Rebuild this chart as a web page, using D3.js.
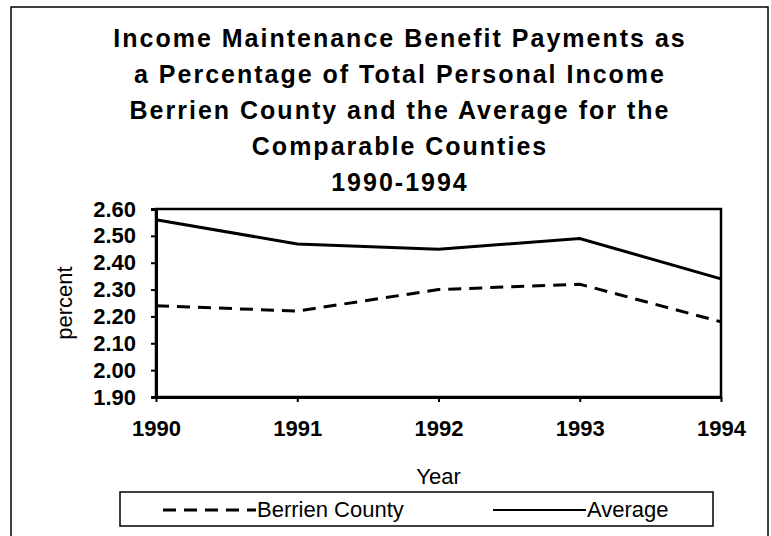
<!DOCTYPE html>
<meta charset="utf-8">

<!-- Load d3.js -->
<script src="https://d3js.org/d3.v7.min.js"></script>

<style>
  body { margin: 0; background: #fff; }
  text { font-family: "Liberation Sans", Arial, sans-serif; fill: #000; }
  .axis path, .axis line { stroke: #000; }
  .axis text { font-size: 22px; font-weight: bold; }
</style>

<div id="my_dataviz"></div>

<script>
    // data
    var years = ["1990", "1991", "1992", "1993", "1994"];
    var berrien = [2.24, 2.22, 2.30, 2.32, 2.18];
    var average = [2.56, 2.47, 2.45, 2.49, 2.34];
    var yTicks = [1.90, 2.00, 2.10, 2.20, 2.30, 2.40, 2.50, 2.60];
    var titleLines = [
      "Income Maintenance Benefit Payments as",
      "a Percentage of Total Personal Income",
      "Berrien County and the Average for the",
      "Comparable Counties",
      "1990-1994"
    ];

    var width = 771, height = 536;
    var plot = {left: 156, right: 721, top: 209, bottom: 397};

    var svg = d3.select("#my_dataviz").append("svg")
        .attr("width", width)
        .attr("height", height);

    // outer frame
    svg.append("rect")
        .attr("x", 11).attr("y", 7)
        .attr("width", 757).attr("height", 540)
        .attr("fill", "none")
        .attr("stroke", "#000")
        .attr("stroke-width", 1.5);

    // title
    svg.append("g").selectAll("text")
        .data(titleLines)
        .enter().append("text")
          .attr("x", 400)
          .attr("y", function(d, i) { return 47 + i * 36; })
          .attr("text-anchor", "middle")
          .style("font-size", "25px")
          .style("font-weight", "bold")
          .style("letter-spacing", "2px")
          .text(function(d) { return d; });

    // scales
    var x = d3.scalePoint()
        .domain(years)
        .range([plot.left, plot.right]);

    var y = d3.scaleLinear()
        .domain([1.9, 2.6])
        .range([plot.bottom, plot.top]);

    // plot area box
    svg.append("rect")
        .attr("x", plot.left).attr("y", plot.top)
        .attr("width", plot.right - plot.left)
        .attr("height", plot.bottom - plot.top)
        .attr("fill", "none")
        .attr("stroke", "#000")
        .attr("stroke-width", 2.5);

    // y axis
    var yAxis = svg.append("g")
        .attr("class", "axis")
        .attr("transform", "translate(" + plot.left + ",0)")
        .call(d3.axisLeft(y).tickValues(yTicks).tickSize(5).tickPadding(15)
          .tickFormat(d3.format(".2f")));
    yAxis.select(".domain").attr("stroke-width", 3);
    yAxis.selectAll("line").attr("stroke-width", 2);

    // x axis
    var xAxis = svg.append("g")
        .attr("class", "axis")
        .attr("transform", "translate(0," + plot.bottom + ")")
        .call(d3.axisBottom(x).tickSize(5).tickPadding(18).tickSizeOuter(0));
    xAxis.select(".domain").attr("stroke-width", 3);
    xAxis.selectAll("line").attr("stroke-width", 2);

    // axis titles
    svg.append("text")
        .attr("transform", "translate(72," + ((plot.top + plot.bottom) / 2) + ") rotate(-90)")
        .attr("text-anchor", "middle")
        .style("font-size", "22px")
        .text("percent");

    svg.append("text")
        .attr("x", (plot.left + plot.right) / 2)
        .attr("y", 484)
        .attr("text-anchor", "middle")
        .style("font-size", "22px")
        .text("Year");

    // lines
    var line = d3.line()
        .x(function(d, i) { return x(years[i]); })
        .y(function(d) { return y(d); });

    svg.append("path")
        .datum(berrien)
        .attr("fill", "none")
        .attr("stroke", "#000")
        .attr("stroke-width", 3)
        .attr("stroke-dasharray", "13,8")
        .attr("d", line);

    svg.append("path")
        .datum(average)
        .attr("fill", "none")
        .attr("stroke", "#000")
        .attr("stroke-width", 3)
        .attr("d", line);

    // legend
    var legend = svg.append("g");
    legend.append("rect")
        .attr("x", 120).attr("y", 492)
        .attr("width", 593).attr("height", 34)
        .attr("fill", "none")
        .attr("stroke", "#000")
        .attr("stroke-width", 1.5);

    var legendItems = [
      {name: "Berrien County", dash: "13,8", x0: 163, x1: 256},
      {name: "Average", dash: null, x0: 493, x1: 586}
    ];
    legend.selectAll("line")
        .data(legendItems)
        .enter().append("line")
          .attr("x1", function(d) { return d.x0; })
          .attr("x2", function(d) { return d.x1; })
          .attr("y1", 510).attr("y2", 510)
          .attr("stroke", "#000")
          .attr("stroke-width", function(d) { return d.dash ? 3 : 2; })
          .attr("stroke-dasharray", function(d) { return d.dash; });
    legend.selectAll("text")
        .data(legendItems)
        .enter().append("text")
          .attr("x", function(d) { return d.x1 + 1; })
          .attr("y", 517)
          .style("font-size", "22px")
          .text(function(d) { return d.name; });
</script>
